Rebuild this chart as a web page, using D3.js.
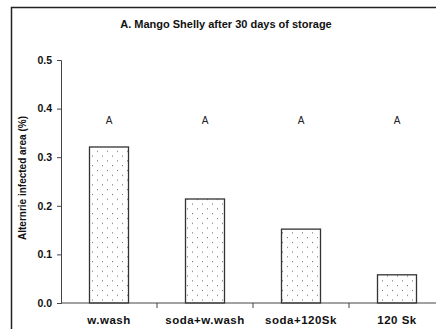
<!DOCTYPE html>
<html>
<head>
<meta charset="utf-8">
<script src="https://cdn.jsdelivr.net/npm/d3@7"></script>
<style>
  body { margin: 0; background: #fff; }
  text { font-family: "Liberation Sans", Arial, sans-serif; }
</style>
</head>
<body>
<div id="chart"></div>
<script>
// treatments and mean infected area after 30 days
var treatments = ["w.wash", "soda+w.wash", "soda+120Sk", "120 Sk"];
var infected = [0.321, 0.214, 0.152, 0.058];
var groups = ["A", "A", "A", "A"];
var yTicks = [0.0, 0.1, 0.2, 0.3, 0.4, 0.5];

var width = 436, height = 329;

var svg = d3.select("#chart")
    .append("svg")
    .attr("width", width)
    .attr("height", height);

// frame round the whole plot (runs off right and bottom)
svg.append("rect")
    .attr("x", 11.5)
    .attr("y", 7.5)
    .attr("width", 440)
    .attr("height", 340)
    .attr("fill", "none")
    .attr("stroke", "#222")
    .attr("stroke-width", 1.5);

var defs = svg.append("defs");
var pat = defs.append("pattern")
    .attr("id", "dots")
    .attr("patternUnits", "userSpaceOnUse")
    .attr("width", 10)
    .attr("height", 9.6);
pat.append("rect").attr("width", 10).attr("height", 9.6).attr("fill", "#fff");
pat.append("rect").attr("x", 2).attr("y", 2).attr("width", 1).attr("height", 1).attr("fill", "#666");
pat.append("rect").attr("x", 7).attr("y", 6.8).attr("width", 1).attr("height", 1).attr("fill", "#666");

var x = d3.scaleBand()
    .domain(treatments)
    .range([61, 445])
    .paddingInner(0)
    .paddingOuter(0);

var y = d3.scaleLinear()
    .domain([0, 0.5])
    .range([303, 60]);

var barW = 39;

svg.append("g")
    .selectAll()
    .data(treatments)
    .enter()
    .append("rect")
    .attr("x", d => x(d) + x.bandwidth() / 2 - barW / 2)
    .attr("y", (d, i) => y(infected[i]))
    .attr("width", barW)
    .attr("height", (d, i) => y(0) - y(infected[i]))
    .attr("fill", "url(#dots)")
    .attr("stroke", "#333")
    .attr("stroke-width", 1.3);

// y axis
var yAxis = d3.axisLeft(y)
    .tickValues(yTicks)
    .tickFormat(d3.format(".1f"))
    .tickSize(4)
    .tickPadding(5);
var yG = svg.append("g")
    .attr("transform", "translate(61,0)")
    .call(yAxis);
yG.select(".domain").attr("stroke", "#444");
yG.selectAll(".tick line").attr("stroke", "#444");
yG.selectAll("text")
    .attr("font-size", 10.5)
    .attr("font-weight", "bold")
    .attr("font-family", "Liberation Sans, Arial, sans-serif")
    .attr("fill", "#111");

// x axis: ticks between categories
var xG = svg.append("g")
    .attr("transform", "translate(0,303)");
xG.append("line")
    .attr("x1", 61).attr("x2", 445)
    .attr("stroke", "#444");
xG.selectAll(".sep")
    .data(treatments.slice(1))
    .enter()
    .append("line")
    .attr("x1", d => x(d)).attr("x2", d => x(d))
    .attr("y1", 0).attr("y2", 5)
    .attr("stroke", "#444");
xG.selectAll(".lab")
    .data(treatments)
    .enter()
    .append("text")
    .attr("x", d => x(d) + x.bandwidth() / 2)
    .attr("y", 21)
    .attr("text-anchor", "middle")
    .attr("font-size", 11.5)
    .attr("font-weight", "bold")
    .attr("letter-spacing", 0.5)
    .attr("fill", "#111")
    .text(d => d);

// significance letters
svg.append("g")
    .selectAll()
    .data(treatments)
    .enter()
    .append("text")
    .attr("x", d => x(d) + x.bandwidth() / 2)
    .attr("y", 124)
    .attr("text-anchor", "middle")
    .attr("font-size", 10)
    .attr("fill", "#222")
    .text((d, i) => groups[i]);

svg.append("text")
    .attr("x", 226)
    .attr("y", 28)
    .attr("text-anchor", "middle")
    .attr("font-size", 11)
    .attr("font-weight", "bold")
    .attr("fill", "#111")
    .text("A. Mango Shelly after 30 days of storage");

svg.append("text")
    .attr("transform", "translate(26,178) rotate(-90)")
    .attr("text-anchor", "middle")
    .attr("font-size", 10)
    .attr("font-weight", "bold")
    .attr("fill", "#111")
    .text("Alternrie infected area (%)");
</script>
</body>
</html>
